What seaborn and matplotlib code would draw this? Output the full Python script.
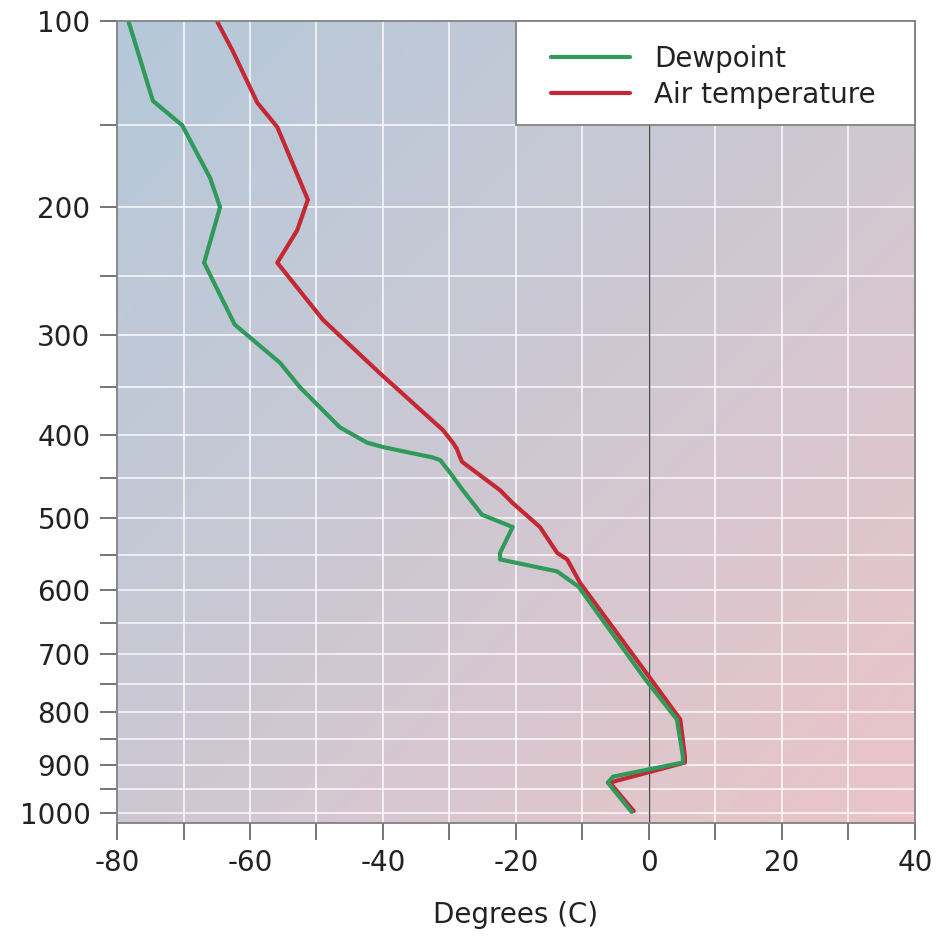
import numpy as np
import pandas as pd
import matplotlib
matplotlib.use("Agg")
import matplotlib.pyplot as plt
import seaborn as sns
from matplotlib.ticker import FixedLocator, FixedFormatter, NullFormatter
from matplotlib.patches import Rectangle
from matplotlib.colors import LinearSegmentedColormap

# ---------------- data ----------------
dew_p = [100, 137, 150, 181, 200, 240, 291, 326, 350, 392, 409, 414, 426, 429,
         444, 465, 496, 512, 547, 556, 573, 595, 742, 814, 884, 896, 924, 936, 997]
dew_t = [-78.3, -74.6, -70.2, -66.0, -64.5, -66.9, -62.3, -55.5, -52.5, -46.5,
         -42.4, -40.0, -32.5, -31.4, -29.9, -28.0, -25.1, -20.5, -22.4, -22.4,
         -13.8, -10.6, -0.6, 4.2, 5.1, 5.1, -5.4, -6.2, -2.6]

air_p = [100, 113, 138, 151, 195, 216, 240, 287, 336, 395, 409, 416,
         426, 431, 465, 481, 512, 547, 556, 589, 738, 814, 884, 896, 936, 995]
air_t = [-65.0, -62.6, -58.9, -55.9, -51.3, -52.9, -55.9, -49.0, -40.5,
         -31.0, -29.5, -28.9, -28.4, -28.1, -22.4, -20.5, -16.4, -13.8,
         -12.3, -10.4, 0.0, 4.7, 5.4, 5.4, -5.9, -2.3]

series_names = ["Dewpoint", "Air temperature"]
x_ticks = [-80, -70, -60, -50, -40, -30, -20, -10, 0, 10, 20, 30, 40]
x_tick_labels = ["-80", "", "-60", "", "-40", "", "-20", "", "0", "", "20", "", "40"]
y_major = [100, 200, 300, 400, 500, 600, 700, 800, 900, 1000]
y_minor = [150, 250, 350, 450, 550, 650, 750, 850, 950]

green = "#2f9a5a"
red = "#c42834"

# ---------------- style ----------------
sns.set_style("ticks")
plt.rcParams["font.family"] = ["DejaVu Sans"]

fig = plt.figure(figsize=(9.53, 9.38), dpi=100)
W, H = 953, 938
ax = fig.add_axes([117 / W, 1 - 822.7 / H, 798 / W, 802 / H])

kappa = 0.286
fwd = lambda p: np.power(np.clip(p, 1e-6, None), kappa)
inv = lambda u: np.power(np.clip(u, 1e-6, None), 1 / kappa)
ax.set_yscale("function", functions=(fwd, inv))

# background gradient (top-left blue -> bottom-right pink)
n = 256
xx, yy = np.meshgrid(np.linspace(0, 1, n), np.linspace(0, 1, n))
grad = (xx + yy) / 2
cmap = LinearSegmentedColormap.from_list("bg", ["#b4c9db", "#cdc8d3", "#ebc4c8"])
ax.imshow(grad, cmap=cmap, extent=[0, 1, 0, 1], transform=ax.transAxes,
          origin="upper", aspect="auto", zorder=0, interpolation="bilinear")

# lines
df_dew = pd.DataFrame({"Temperature": dew_t, "Pressure": dew_p})
df_air = pd.DataFrame({"Temperature": air_t, "Pressure": air_p})
sns.lineplot(data=df_dew, x="Temperature", y="Pressure", sort=False, estimator=None,
             color=green, lw=3.0, ax=ax, label=series_names[0], zorder=2.2)
sns.lineplot(data=df_air, x="Temperature", y="Pressure", sort=False, estimator=None,
             color=red, lw=3.0, ax=ax, label=series_names[1], zorder=2.1)

ax.axvline(0, color="#4a4a4a", lw=1.0, zorder=1.5)

ax.set_xlim(-80, 40)
ax.set_ylim(1020, 100)

ax.xaxis.set_major_locator(FixedLocator(x_ticks))
ax.xaxis.set_major_formatter(FixedFormatter(x_tick_labels))
ax.yaxis.set_major_locator(FixedLocator(y_major))
ax.yaxis.set_major_formatter(FixedFormatter([str(v) for v in y_major]))
ax.yaxis.set_minor_locator(FixedLocator(y_minor))
ax.yaxis.set_minor_formatter(NullFormatter())

ax.set_axisbelow(True)
ax.grid(True, which="both", color="white", lw=1.2, alpha=0.85)

for s in ax.spines.values():
    s.set_visible(True)
    s.set_color("#808080")
    s.set_linewidth(1.3)

ax.tick_params(axis="both", which="both", direction="out", length=12, width=1.3,
               color="#6a6a6a", labelsize=20, labelcolor="#222222")
ax.tick_params(axis="y", which="both", pad=7)
ax.tick_params(axis="x", which="both", pad=7)

ax.set_xlabel("Degrees (C)", fontsize=20, color="#222222")
ax.set_ylabel("")
ax.xaxis.set_label_coords(0.5, (822.7 - 915) / 802)
ax.xaxis.label.set_va("center")

# legend box
box_y0 = (822.7 - 125.5) / 802
ax.add_patch(Rectangle((0.5, box_y0), 0.5, 1 - box_y0, transform=ax.transAxes,
                       facecolor="white", edgecolor="#808080", lw=1.3, zorder=3,
                       clip_on=False))
leg = ax.legend(frameon=False, loc="center left",
                bbox_to_anchor=((551 - 117) / 798, (822.7 - 77) / 802),
                borderpad=0, borderaxespad=0, handlelength=2.84, handletextpad=0.86,
                labelspacing=0.3, fontsize=20)
for t in leg.get_texts():
    t.set_color("#222222")
for h in leg.get_lines():
    h.set_linewidth(3.0)
leg.set_zorder(5)

fig.savefig("out.png", dpi=100)
